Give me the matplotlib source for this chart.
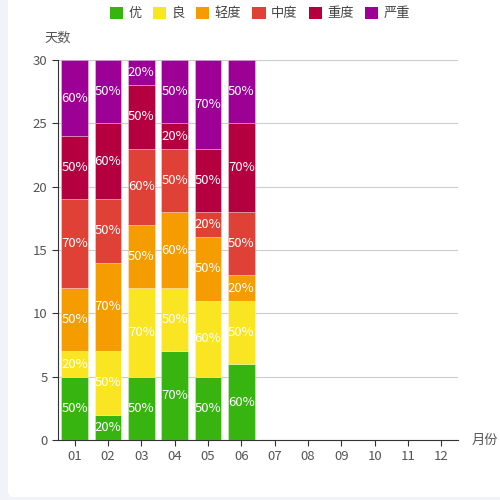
import numpy as np
import matplotlib.pyplot as plt
from matplotlib.patches import FancyBboxPatch

plt.rcParams['font.family'] = ['Noto Sans CJK SC', 'DejaVu Sans']

months = ['01', '02', '03', '04', '05', '06', '07', '08', '09', '10', '11', '12']
levels = ['优', '良', '轻度', '中度', '重度', '严重']
colors = ['#38b411', '#f9e521', '#f49c00', '#e04136', '#b5003f', '#9c0095']

# days per level for months 01-06
you = [5, 2, 5, 7, 5, 6]
liang = [2, 5, 7, 5, 6, 5]
qingdu = [5, 7, 5, 6, 5, 2]
zhongdu = [7, 5, 6, 5, 2, 5]
zhongdu2 = [5, 6, 5, 2, 5, 7]
yanzhong = [6, 5, 2, 5, 7, 5]
series = [you, liang, qingdu, zhongdu, zhongdu2, yanzhong]

fig = plt.figure(figsize=(5, 5), dpi=100)
fig.patch.set_facecolor('#f2f3f8')
card = FancyBboxPatch((0.016, 0.006), 1.1, 1.05, boxstyle='round,pad=0,rounding_size=0.012',
                      transform=fig.transFigure, facecolor='white', edgecolor='none', zorder=-5)
fig.patches.append(card)

ax = fig.add_axes([0.116, 0.12, 0.8, 0.76])
ax.set_facecolor('none')

x = np.arange(len(you))
bottom = np.zeros(len(you))
for vals, c in zip(series, colors):
    vals = np.array(vals)
    ax.bar(x, vals, 0.8, bottom=bottom, color=c, edgecolor=(1, 1, 1, 0.35), linewidth=0.6, zorder=3)
    for xi, v, b in zip(x, vals, bottom):
        ax.text(xi, b + v / 2, f'{v * 10}%', ha='center', va='center', color='white',
                fontsize=9.5, fontweight='medium', zorder=4)
    bottom += vals

ax.set_xlim(-0.5, 11.5)
ax.set_ylim(0, 30)
ax.set_xticks(range(12))
ax.set_xticklabels(months)
ax.set_yticks(range(0, 31, 5))
ax.grid(axis='y', color='#cccccc', linewidth=0.8, zorder=0)
for s in ['top', 'right']:
    ax.spines[s].set_visible(False)
ax.spines['left'].set_color('#333333')
ax.spines['bottom'].set_color('#333333')
ax.tick_params(axis='both', colors='#333333', labelcolor='#555555', labelsize=9.5, length=4, width=0.8)

ax.text(0.0, 1.04, '天数', transform=ax.transAxes, ha='center', va='bottom', fontsize=9.5, color='#555555')
ax.text(1.035, 0.0, '月份', transform=ax.transAxes, ha='left', va='center', fontsize=9.5, color='#555555')

handles = [FancyBboxPatch((0, 0), 1, 1, boxstyle='round,pad=0,rounding_size=0.2',
                          facecolor=c, edgecolor='none') for c in colors]
fig.legend(handles, levels, loc='upper center', bbox_to_anchor=(0.52, 1.01), ncol=6, frameon=False,
           fontsize=9.5, handlelength=1.0, handleheight=1.0, handletextpad=0.4, columnspacing=0.85,
           labelcolor='#444444')

fig.savefig('out.png', dpi=100, facecolor=fig.get_facecolor())
